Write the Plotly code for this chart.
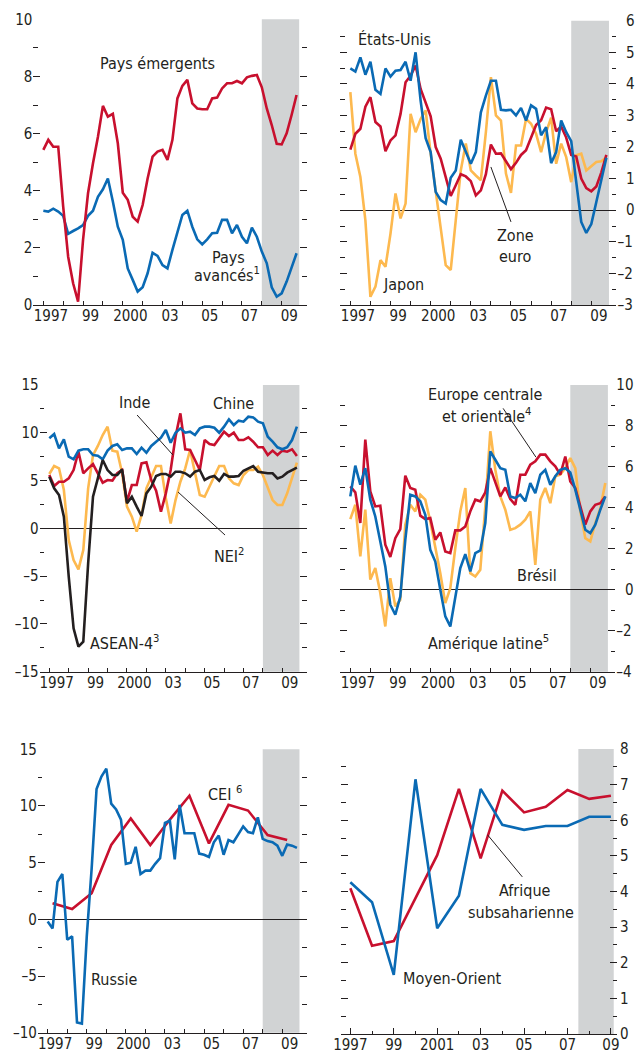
import plotly.graph_objects as go

W, H = 637, 1055
RED = "#C8102E"
BLUE = "#0A6AB4"
YEL = "#FDB94F"
BLK = "#231F20"
SHADE = "#D1D3D4"
FONT = "DejaVu Sans Condensed, Liberation Sans Narrow, sans-serif"
TICK_SIZE = 15
TEXT_SIZE = 16

# quarterly periods 1997T1 .. 2009T4, placed at the start of each quarter
quarters = [f"{y}T{q}" for y in range(1997, 2010) for q in range(1, 5)]
xq = [int(s[:4]) + (int(s[-1]) - 1) / 4 for s in quarters]
years = list(range(1997, 2010))

# panel 1
pays_emergents = [5.43, 5.78, 5.54, 5.54, 3.44, 1.69, 0.76, 0.12, 2.28, 3.91, 4.96, 5.89,
                  6.97, 6.59, 6.69, 5.66, 3.93, 3.68, 3.09, 2.92, 3.5, 4.43, 5.19, 5.37,
                  5.43, 5.08, 5.78, 7.23, 7.67, 7.88, 7.06, 6.88, 6.85, 6.85, 7.23, 7.26,
                  7.58, 7.76, 7.76, 7.84, 7.76, 7.97, 8.02, 8.05, 7.62, 6.88, 6.3, 5.64,
                  5.62, 6.01, 6.65, 7.35]
pays_avances = [3.3, 3.27, 3.37, 3.27, 3.12, 2.49, 2.59, 2.68, 2.8, 3.12, 3.3, 3.79,
                4.05, 4.43, 3.62, 2.74, 2.28, 1.28, 0.88, 0.47, 0.62, 1.11, 1.83, 1.72,
                1.4, 1.28, 1.93, 2.51, 3.15, 3.3, 2.74, 2.3, 2.12, 2.3, 2.51, 2.53,
                2.98, 2.98, 2.51, 2.8, 2.39, 2.16, 2.71, 2.39, 1.87, 1.46, 0.62, 0.29,
                0.41, 0.82, 1.28, 1.81]

# panel 2
etats_unis = [4.49, 4.39, 4.84, 4.29, 4.7, 3.81, 3.68, 4.49, 4.23, 4.42, 4.44, 4.7,
              4.1, 5.0, 3.47, 2.28, 1.84, 0.58, 0.32, 0.21, 1.03, 1.26, 2.23, 1.84,
              1.47, 1.84, 3.1, 3.63, 4.1, 4.1, 3.18, 3.16, 3.18, 3.0, 3.24, 2.84,
              3.32, 3.21, 2.37, 2.63, 1.49, 1.84, 2.84, 2.47, 2.19, 0.89, -0.37, -0.72,
              -0.44, 0.26, 0.97, 1.66]
zone_euro = [1.92, 2.42, 2.58, 3.28, 3.58, 2.79, 2.65, 1.87, 2.21, 2.37, 3.05, 4.05,
             4.26, 4.58, 3.84, 3.37, 2.97, 2.0, 1.63, 1.05, 0.45, 0.79, 1.14, 1.07,
             0.92, 0.47, 0.63, 1.14, 2.08, 1.79, 1.8, 1.55, 1.3, 1.5, 1.75, 1.9,
             2.3, 2.7, 2.85, 3.25, 3.2, 2.5, 2.65, 2.3, 1.75, 1.7, 1.0, 0.7,
             0.6, 0.75, 1.2, 1.75]
japon = [3.74, 1.79, 1.05, -0.32, -2.74, -2.42, -1.58, -1.79, -0.74, 0.53, -0.26, 0.21,
         3.05, 2.47, 2.89, 3.16, 1.79, 0.63, -0.53, -1.74, -1.89, -0.42, 1.26, 2.11,
         1.26, 1.1, 0.95, 2.47, 4.21, 3.0, 2.84, 1.16, 0.55, 2.05, 2.05, 2.89,
         2.74, 2.42, 1.84, 2.47, 2.93, 1.47, 2.11, 1.68, 0.89, 1.74, 1.79, 1.26,
         1.39, 1.53, 1.55, 1.68]

# panel 3
chine = [9.42, 9.87, 8.37, 9.31, 7.5, 7.22, 8.13, 8.27, 8.27, 7.67, 7.6, 7.22,
         8.13, 8.62, 8.79, 8.2, 8.37, 8.37, 7.78, 8.44, 7.92, 8.62, 9.07, 9.49,
         10.29, 8.96, 10.01, 10.46, 10.01, 10.11, 9.77, 10.46, 10.64, 10.64, 10.53, 10.01,
         10.64, 11.41, 10.81, 11.27, 11.16, 11.68, 11.61, 11.16, 10.99, 9.59, 9.07, 8.48,
         8.27, 8.48, 9.24, 10.64]
inde = [5.58, 4.43, 4.88, 4.88, 5.23, 6.1, 8.02, 5.76, 6.28, 6.73, 5.76, 4.78,
        5.06, 4.99, 5.76, 6.1, 2.79, 4.53, 4.53, 6.8, 6.91, 5.06, 3.94, 1.74,
        3.66, 6.1, 9.59, 12.03, 8.27, 8.2, 7.15, 6.1, 9.24, 8.82, 8.72, 9.42,
        10.11, 9.66, 10.01, 9.24, 9.24, 9.52, 9.07, 8.48, 8.48, 7.67, 8.13, 7.67,
        8.13, 8.02, 8.27, 7.57]
nei = [5.69, 6.52, 6.28, 4.01, -1.22, -3.31, -4.29, -2.27, 4.19, 7.67, 8.62, 9.77,
       10.64, 8.13, 8.02, 5.76, 2.27, 1.22, -0.35, 1.4, 4.19, 5.41, 6.52, 6.52,
       3.14, 0.52, 2.96, 4.88, 6.28, 8.2, 5.93, 3.49, 3.31, 4.36, 5.58, 6.52,
       6.52, 5.23, 4.71, 4.53, 5.58, 6.1, 6.1, 6.45, 5.58, 4.19, 2.96, 2.44,
       2.44, 3.66, 5.23, 6.87]
asean4 = [5.41, 4.19, 3.49, 1.22, -5.06, -10.46, -12.38, -11.86, -3.66, 3.31, 5.23, 7.15,
          6.1, 5.58, 5.58, 6.17, 2.62, 3.31, 2.27, 1.29, 3.66, 4.36, 5.48, 5.69,
          5.69, 5.41, 5.93, 5.93, 5.76, 5.41, 5.93, 6.1, 5.06, 5.34, 5.48, 4.99,
          5.69, 5.41, 5.41, 5.48, 6.03, 6.28, 6.52, 5.93, 5.83, 5.76, 5.76, 5.23,
          5.41, 5.83, 6.1, 6.35]

# panel 4
bresil = [3.45, 4.15, 1.63, 3.91, 0.5, 1.06, -0.16, -1.79, 0.57, -0.81, -0.49, 3.18,
          4.15, 3.83, 4.64, 4.4, 3.34, 2.12, 0.81, -0.65, 0.08, 2.04, 3.83, 4.97,
          0.81, 0.65, 0.98, 4.07, 7.74, 5.86, 4.56, 3.91, 2.93, 3.01, 3.18, 3.42,
          3.83, 1.22, 4.4, 4.97, 4.23, 5.54, 5.62, 5.94, 6.43, 5.94, 3.83, 2.52,
          2.36, 3.26, 3.99, 5.21]
europe_co = [5.05, 4.76, 3.26, 7.33, 4.8, 4.07, 4.1, 2.2, 1.6, 2.52, 2.96, 5.57,
             4.97, 4.89, 3.62, 3.45, 3.5, 2.44, 2.8, 1.87, 1.79, 2.9, 2.9, 3.09,
             3.83, 4.4, 4.32, 4.76, 5.94, 5.24, 4.56, 5.0, 4.43, 4.15, 5.62, 5.62,
             6.11, 6.27, 6.6, 6.6, 6.27, 6.03, 5.62, 6.51, 5.29, 4.97, 4.07, 3.18,
             3.83, 4.15, 4.23, 4.56]
amerique_latine = [4.56, 6.06, 5.13, 5.94, 4.4, 3.58, 2.36, 1.14, -0.73, -1.22, -0.33, 2.44,
                   4.64, 4.56, 4.32, 3.66, 1.95, 1.38, 0.0, -1.3, -1.79, -0.33, 1.06, 1.74,
                   0.9, 1.79, 1.92, 3.26, 6.76, 6.35, 5.94, 5.86, 4.56, 4.48, 4.64, 4.32,
                   5.21, 4.72, 5.62, 5.86, 5.13, 5.54, 5.86, 5.94, 5.73, 4.89, 3.91, 2.93,
                   2.77, 3.18, 3.91, 4.56]

# panel 5
russie = [-0.2, -0.8, 3.3, 4.0, -1.8, -1.5, -9.1, -9.2, -1.5, 4.5, 11.5, 12.6,
          13.3, 10.2, 9.7, 8.8, 4.9, 5.0, 6.4, 4.0, 4.3, 4.3, 4.9, 5.4,
          8.5, 8.7, 5.3, 10.1, 7.6, 7.6, 7.6, 5.8, 5.7, 5.5, 6.8, 7.4,
          5.7, 7.0, 6.8, 7.5, 8.2, 7.7, 7.6, 9.0, 7.1, 6.9, 6.8, 6.5,
          5.6, 6.6, 6.5, 6.3]
cei = [1.41, 0.91, 2.3, 6.56, 8.9, 6.56, 8.8, 10.9, 6.7, 10.1, 9.6, 7.44, 7.0]
x_cei = [y + 0.25 for y in years]   # annual values drawn at the second quarter

# panel 6 (annual)
afrique_sub = [4.09, 2.48, 2.61, 3.81, 5.02, 6.88, 4.93, 6.83, 6.22, 6.38, 6.85, 6.6, 6.69]
moyen_orient = [4.26, 3.7, 1.66, 7.15, 2.97, 3.88, 6.88, 5.87, 5.73, 5.84, 5.84, 6.1, 6.1]

q_label_years = [1997, 1999, 2001, 2003, 2005, 2007, 2009]
q_labels = ["1997", "99", "2000", "03", "05", "07", "09"]
a_labels = ["1997", "99", "2001", "03", "05", "07", "09"]


def tick_texts(vals, right):
    texts = [("\u2013" + str(abs(v))) if v < 0 else str(v) for v in vals]
    if not right:
        return texts
    # right-hand labels are right-aligned in the original: pad with figure spaces
    width = max(len(t) for t in texts)
    return ["\u2007" * (width - len(t)) + t for t in texts]


# n, x-domain px, y-domain px (top, bottom), y-range, major step, minor step, side
panels = [
    (1, (33.4, 306.5), (19.3, 305.0), (0, 10), 2, 1, "left"),
    (2, (340.3, 616.4), (20.7, 305.0), (-3, 6), 1, 0.5, "right"),
    (3, (39.6, 306.6), (385.0, 671.7), (-15, 15), 5, 2.5, "left"),
    (4, (340.3, 615.3), (385.0, 671.7), (-4, 10), 2, 1, "right"),
    (5, (37.9, 306.7), (749.3, 1032.7), (-10, 15), 5, 2.5, "left"),
    (6, (341.0, 617.0), (749.0, 1034.0), (0, 8), 1, 0.5, "right"),
]

fig = go.Figure()
layout = dict(
    template="none",
    width=W, height=H, margin=dict(l=0, r=0, t=0, b=0, pad=0), autosize=False,
    paper_bgcolor="white", plot_bgcolor="rgba(0,0,0,0)",
    font=dict(family=FONT, size=TICK_SIZE, color=BLK),
    showlegend=False, shapes=[], annotations=[],
)

for n, (xl, xr), (yt, yb), (lo, hi), step, mstep, side in panels:
    xa = "xaxis" if n == 1 else f"xaxis{n}"
    ya = "yaxis" if n == 1 else f"yaxis{n}"
    sfx = "" if n == 1 else str(n)
    if n == 6:
        xax = dict(
            range=[1996.57, 2009.28],
            tickmode="array", tickvals=q_label_years, ticktext=a_labels,
            ticks="inside", ticklen=6, tickwidth=1.2, tickcolor=BLK,
            minor=dict(tickmode="array", tickvals=years, ticks="inside",
                       ticklen=3, tickwidth=1.2, tickcolor=BLK),
        )
    else:
        xax = dict(
            range=[1996.5, 2010.25],
            tickmode="array", tickvals=[y + 0.38 for y in q_label_years], ticktext=q_labels,
            ticks="inside", ticklen=0,
            minor=dict(tickmode="array", tickvals=years, ticks="inside",
                       ticklen=4, tickwidth=1.2, tickcolor=BLK),
        )
    xax.update(domain=[xl / W, xr / W], anchor=f"y{sfx}", showgrid=False, zeroline=False,
               showline=True, linecolor=BLK, linewidth=1.3, fixedrange=True,
               automargin=False, ticklabelstandoff=-3,
               tickfont=dict(size=TICK_SIZE, color=BLK))
    layout[xa] = xax

    nmaj = int(round((hi - lo) / step))
    major = [lo + k * step for k in range(nmaj + 1)]
    layout[ya] = dict(
        domain=[1 - yb / H, 1 - yt / H], range=[lo, hi], anchor=f"x{sfx}", side=side,
        tickmode="array", tickvals=major, ticktext=tick_texts(major, side == "right"),
        ticks="inside", ticklen=7, tickwidth=1.2, tickcolor=BLK, mirror="ticks",
        minor=dict(tickmode="linear", tick0=lo, dtick=mstep, ticks="inside",
                   ticklen=4.5, tickwidth=1.2, tickcolor=BLK),
        showgrid=False, showline=False, automargin=False,
        ticklabelstandoff=2 if n == 6 else 0,
        zeroline=(lo < 0), zerolinecolor=BLK, zerolinewidth=1,
        fixedrange=True, tickfont=dict(size=TICK_SIZE, color=BLK),
    )

    if n == 6:
        sx0, sx1 = 2007.5, 2009.13
    else:
        sx0, sx1 = 2008.0, 2009.88
    layout["shapes"].append(dict(
        type="rect", xref=f"x{sfx}", yref=f"y{sfx} domain", x0=sx0, x1=sx1, y0=0, y1=1,
        fillcolor=SHADE, line=dict(width=0), layer="below"))


def line(n, x, y, color):
    sfx = "" if n == 1 else str(n)
    fig.add_trace(go.Scatter(x=x, y=y, mode="lines", xaxis=f"x{sfx}", yaxis=f"y{sfx}",
                             line=dict(color=color, width=2.6), hoverinfo="skip"))


line(1, xq, pays_avances, BLUE)
line(1, xq, pays_emergents, RED)
line(2, xq, japon, YEL)
line(2, xq, zone_euro, RED)
line(2, xq, etats_unis, BLUE)
line(3, xq, nei, YEL)
line(3, xq, inde, RED)
line(3, xq, chine, BLUE)
line(3, xq, asean4, BLK)
line(4, xq, bresil, YEL)
line(4, xq, europe_co, RED)
line(4, xq, amerique_latine, BLUE)
line(5, x_cei, cei, RED)
line(5, xq, russie, BLUE)
line(6, years, afrique_sub, RED)
line(6, years, moyen_orient, BLUE)


def label(n, x, y, text):
    sfx = "" if n == 1 else str(n)
    layout["annotations"].append(dict(
        xref=f"x{sfx}", yref=f"y{sfx}", x=x, y=y, text=text, showarrow=False,
        xanchor="center", yanchor="middle",
        font=dict(family=FONT, size=TEXT_SIZE, color=BLK)))


def leader(n, x0, y0, x1, y1):
    sfx = "" if n == 1 else str(n)
    layout["shapes"].append(dict(type="line", xref=f"x{sfx}", yref=f"y{sfx}",
                                 x0=x0, y0=y0, x1=x1, y1=y1, line=dict(color=BLK, width=1)))


label(1, 2002.77, 8.44, "Pays émergents")
label(1, 2006.3, 1.65, "Pays")
label(1, 2006.25, 1.05, "avancés<sup>1</sup>")

label(2, 1999.18, 5.39, "États-Unis")
label(2, 2005.2, -0.8, "Zone")
label(2, 2005.2, -1.45, "euro")
label(2, 1999.64, -2.34, "Japon")
leader(2, 2004.0, 1.37, 2005.0, -0.37)

label(3, 2001.42, 13.2, "Inde")
label(3, 2006.47, 13.1, "Chine")
label(3, 2006.3, -2.8, "NEI<sup>2</sup>")
label(3, 2000.85, -11.9, "ASEAN-4<sup>3</sup>")
leader(3, 2001.52, 11.86, 2003.37, 7.67)
leader(3, 2003.63, 3.8, 2006.05, -0.7)

label(4, 2003.74, 9.55, "Europe centrale")
label(4, 2003.85, 8.5, "et orientale<sup>4</sup>")
label(4, 2006.34, 0.72, "Brésil")
label(4, 2003.89, -2.55, "Amérique latine<sup>5</sup>")
leader(4, 2004.64, 8.86, 2006.28, 6.48)

label(5, 2006.07, 11.06, "CEI <sup>6</sup>")
label(5, 2000.4, -5.35, "Russie")

label(6, 2005.05, 4.04, "Afrique")
label(6, 2004.85, 3.4, "subsaharienne")
label(6, 2001.71, 1.57, "Moyen-Orient")
leader(6, 2003.32, 5.59, 2004.92, 4.41)

fig.update_layout(**layout)
# the page is photographed at exactly the figure size, so drop the default body margin
fig.write_html("out.html", config={"displayModeBar": False},
               post_script="document.body.style.margin='0px';")
